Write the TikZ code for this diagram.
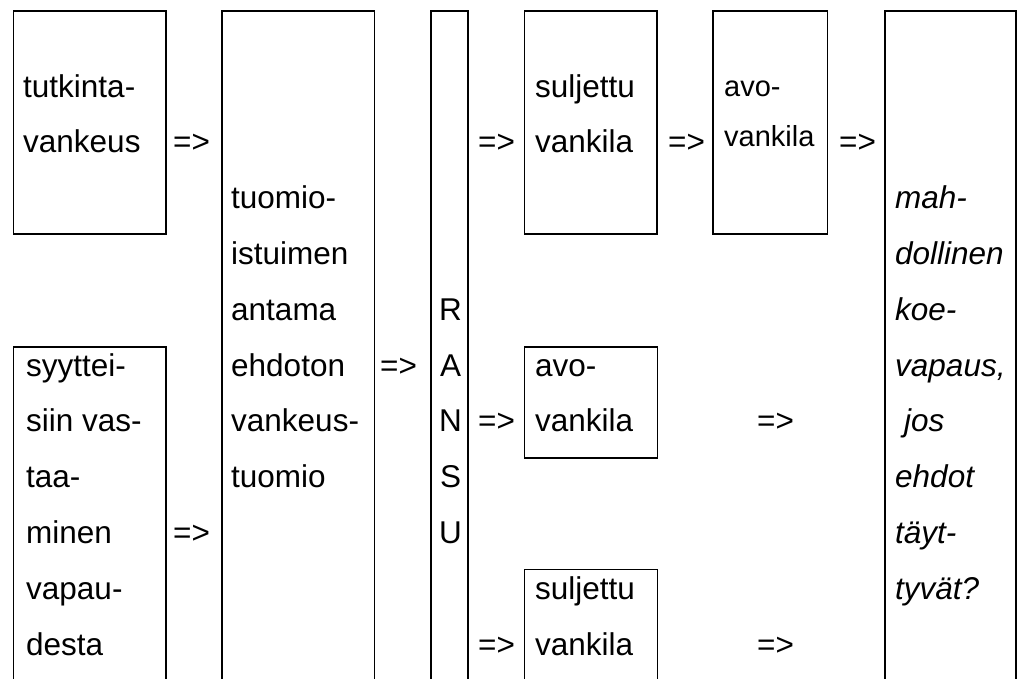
\documentclass[tikz,border=0pt]{standalone}
\usepackage{fontspec}
\setmainfont{Liberation Sans}

\begin{document}
\begin{tikzpicture}
  [x=1pt,y=-1pt,
   box/.style={draw,line width=1.6pt},
   txt/.style={anchor=base west,inner sep=0pt,align=left,
     font=\fontsize{31.5}{55.8}\selectfont},
   small/.style={txt,font=\fontsize{29}{50}\selectfont},
   impl/.style={anchor=base west,inner sep=0pt,
     font=\fontsize{31.5}{55.8}\selectfont}]
  \useasboundingbox (0,0) rectangle (1022,678);
  \clip (0,0) rectangle (1022,678);

  % laatikot
  \foreach \xa/\ya/\xb/\yb in {13.3/10.7/165.7/234, 13.3/346.7/165.7/690,
    221.7/10.7/374.3/690, 431/10.7/468/690, 524.3/10.7/657/234,
    713/10.7/827.5/234, 885/10.7/1016/690, 524.3/346.7/657.3/457.7,
    524.3/569.3/657.3/690}
    \draw[box] (\xa,\ya) rectangle (\xb,\yb);

  % tekstit (base = viimeisen rivin perusviiva)
  \node[txt] (tutk) at (23,152.8) {tutkinta-\\vankeus};
  \node[txt] (syyt) at (26,655) {syyttei-\\siin vas-\\taa-\\minen\\vapau-\\desta};
  \node[txt] (tuom) at (231,487.6) {tuomio-\\istuimen\\antama\\ehdoton\\vankeus-\\tuomio};
  \node[txt,anchor=base,align=center] (ransu) at (450.5,543.4) {R\\A\\N\\S\\U};
  \node[txt] (sulj1) at (535,152.8) {suljettu\\vankila};
  \node[small] (avo1) at (724,146) {avo-\\vankila};
  \node[txt] (avo2) at (535,431.8) {avo-\\vankila};
  \node[txt] (sulj2) at (535,655) {suljettu\\vankila};
  \node[txt,font=\fontsize{31.5}{55.8}\selectfont\itshape] (koe) at (895,599.2)
    {mah-\\dollinen\\koe-\\vapaus,\\\hspace*{0.28em}jos\\ehdot\\täyt-\\tyvät?};

  % nuolet
  \foreach \n/\x/\y in {a1/173/152.8, a2/173/543.4, a3/380/376,
    a4/478/152.8, a5/668/152.8, a6/839/152.8, a7/478/431.8,
    a8/757/431.8, a9/478/655, a10/757/655}
    \node[impl] (\n) at (\x,\y) {=>};
\end{tikzpicture}
\end{document}
